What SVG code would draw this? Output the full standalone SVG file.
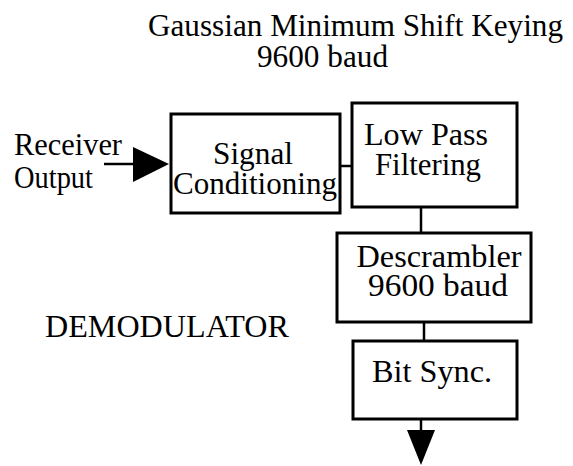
<svg xmlns="http://www.w3.org/2000/svg" width="573" height="466" viewBox="0 0 573 466">
  <style>
    text { font-family: "Liberation Serif", "Times New Roman", serif; font-size: 31px; fill: #000; }
    .mid { text-anchor: middle; }
    .box { fill: #fff; stroke: #000; stroke-width: 3; }
    .wire { stroke: #000; stroke-width: 2.5; fill: none; }
    .head { fill: #000; stroke: none; }
  </style>
  <rect width="573" height="466" fill="#fff"/>

  <!-- title -->
  <g id="title">
    <text x="148" y="36" textLength="415" lengthAdjust="spacingAndGlyphs">Gaussian Minimum Shift Keying</text>
    <text x="257" y="67" textLength="131" lengthAdjust="spacingAndGlyphs">9600 baud</text>
  </g>

  <!-- input label -->
  <g id="input">
    <text x="14" y="155" textLength="108" lengthAdjust="spacingAndGlyphs">Receiver</text>
    <text x="14" y="188" textLength="79" lengthAdjust="spacingAndGlyphs">Output</text>
  </g>

  <g id="demod-label">
    <text x="45" y="337" textLength="244" lengthAdjust="spacingAndGlyphs">DEMODULATOR</text>
  </g>

  <!-- connectors -->
  <g id="connectors">
    <line class="wire" x1="104" y1="164" x2="136" y2="164"/>
    <polygon class="head" points="133,147 133,182 169,164"/>
    <line class="wire" x1="340" y1="166" x2="352" y2="166"/>
    <line class="wire" x1="421" y1="207" x2="421" y2="233"/>
    <line class="wire" x1="424" y1="322" x2="424" y2="341"/>
    <line class="wire" x1="421" y1="419" x2="421" y2="432"/>
    <polygon class="head" points="407,430 435,430 421,465"/>
  </g>

  <g id="signal-conditioning">
    <rect class="box" x="171" y="114" width="169" height="99"/>
    <text class="mid" x="253" y="164" textLength="80" lengthAdjust="spacingAndGlyphs">Signal</text>
    <text class="mid" x="255" y="194" textLength="164" lengthAdjust="spacingAndGlyphs">Conditioning</text>
  </g>

  <g id="low-pass">
    <rect class="box" x="352" y="103" width="165" height="104"/>
    <text class="mid" x="426" y="145" textLength="124" lengthAdjust="spacingAndGlyphs">Low Pass</text>
    <text class="mid" x="428" y="175" textLength="106" lengthAdjust="spacingAndGlyphs">Filtering</text>
  </g>

  <g id="descrambler">
    <rect class="box" x="337" y="233" width="194" height="89"/>
    <text class="mid" x="439" y="267" textLength="165" lengthAdjust="spacingAndGlyphs">Descrambler</text>
    <text class="mid" x="438" y="296" textLength="140" lengthAdjust="spacingAndGlyphs">9600 baud</text>
  </g>

  <g id="bit-sync">
    <rect class="box" x="353" y="341" width="164" height="78"/>
    <text class="mid" x="432" y="382" textLength="120" lengthAdjust="spacingAndGlyphs">Bit Sync.</text>
  </g>
</svg>
